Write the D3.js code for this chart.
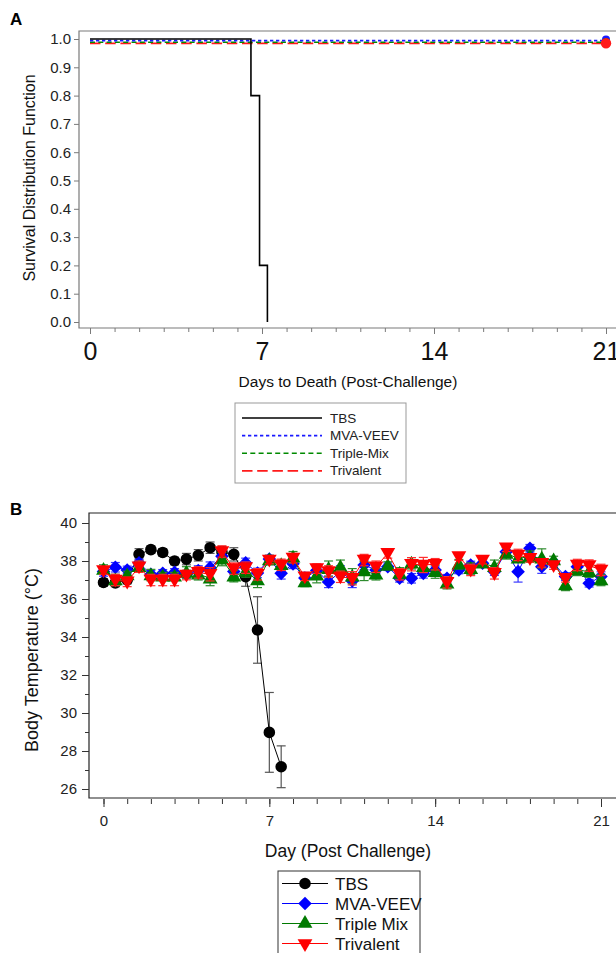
<!DOCTYPE html>
<html>
<head>
<meta charset="utf-8">
<script src="https://cdn.jsdelivr.net/npm/d3@7"></script>
<style>
  body { margin: 0; background: #fff; }
  svg { display: block; font-family: "Liberation Sans", Arial, sans-serif; }
</style>
</head>
<body>
<svg id="chart" width="616" height="953"></svg>
<script>
// ---- panel A data (Kaplan-Meier) ----
const survGroups = ["TBS", "MVA-VEEV", "Triple-Mix", "Trivalent"];
const tbsTimes = [0, 6.55, 6.9, 7.22];
const tbsSurv = [1.0, 0.8, 0.2, 0.0];
const vaccTimes = [0, 21];
const vaccSurv = [1.0, 1.0];
const survTicksY = [0.0, 0.1, 0.2, 0.3, 0.4, 0.5, 0.6, 0.7, 0.8, 0.9, 1.0];
const dayTicks = [0, 7, 14, 21];

// ---- panel B data (body temperature, mean +/- err) ----
const tempGroups = ["TBS", "MVA-VEEV", "Triple Mix", "Trivalent"];
const days = [0, 0.5, 1, 1.5, 2, 2.5, 3, 3.5, 4, 4.5, 5, 5.5, 6, 6.5, 7, 7.5, 8, 8.5, 9, 9.5, 10,
              10.5, 11, 11.5, 12, 12.5, 13, 13.5, 14, 14.5, 15, 15.5, 16, 16.5, 17, 17.5, 18, 18.5,
              19, 19.5, 20, 20.5, 21];
const tbsTemp = [36.87, 36.85, 37.0, 38.35, 38.6, 38.45, 38.0, 38.1, 38.3, 38.7, 38.47, 38.35, 37.17, 34.37, 28.98, 27.17];
const tbsErr = [0.2, 0.2, 0.2, 0.3, 0.2, 0.2, 0.2, 0.3, 0.3, 0.3, 0.3, 0.35, 0.5, 1.75, 2.1, 1.1];
const mvaTemp = [37.45, 37.67, 37.53, 37.9, 37.3, 37.35, 37.4, 37.3, 37.5, 37.65, 38.25, 37.45, 37.9, 37.37,
                 38.1, 37.35, 37.85, 37.1, 37.5, 36.9, 37.45, 36.95, 37.79, 37.53, 37.7, 37.09, 37.09, 37.35,
                 37.53, 37.09, 37.53, 37.79, 37.88, 37.44, 38.49, 37.44, 38.67, 37.7, 37.88, 37.18, 37.7, 36.83, 37.18];
const mvaErr = [0.25, 0.25, 0.2, 0.2, 0.2, 0.2, 0.2, 0.2, 0.25, 0.3, 0.3, 0.25, 0.25, 0.25, 0.2, 0.3, 0.25,
                0.3, 0.3, 0.3, 0.3, 0.35, 0.25, 0.2, 0.2, 0.2, 0.25, 0.25, 0.2, 0.2, 0.2, 0.2, 0.2, 0.2, 0.25,
                0.55, 0.2, 0.35, 0.2, 0.2, 0.3, 0.2, 0.25];
const tripleTemp = [37.55, 37.0, 37.26, 37.7, 37.26, 37.2, 37.2, 37.4, 37.3, 37.1, 38.1, 37.2, 37.45, 37.0,
                    38.05, 37.8, 38.2, 36.9, 37.25, 37.6, 37.7, 37.2, 37.47, 37.3, 37.76, 37.35, 37.88, 37.7,
                    37.44, 36.83, 37.83, 37.6, 37.88, 37.7, 38.4, 38.14, 38.23, 38.14, 38.05, 36.74, 37.53, 37.44, 37.0];
const tripleErr = [0.25, 0.3, 0.2, 0.25, 0.3, 0.2, 0.2, 0.3, 0.3, 0.4, 0.35, 0.3, 0.3, 0.4, 0.25, 0.2, 0.3,
                   0.25, 0.4, 0.4, 0.35, 0.4, 0.5, 0.3, 0.2, 0.3, 0.3, 0.3, 0.35, 0.3, 0.25, 0.3, 0.2, 0.35,
                   0.3, 0.2, 0.3, 0.5, 0.2, 0.3, 0.3, 0.3, 0.3];
const triTemp = [37.5, 37.0, 36.9, 37.7, 37.0, 37.0, 37.0, 37.26, 37.4, 37.3, 38.5, 37.6, 37.65, 37.3, 38.05,
                 37.8, 38.15, 37.17, 37.6, 37.45, 37.17, 37.09, 38.05, 37.7, 38.4, 37.3, 37.83, 37.79, 37.83,
                 36.88, 38.23, 37.53, 38.05, 37.35, 38.7, 38.32, 38.14, 37.88, 37.76, 37.09, 37.79, 37.76, 37.53];
const triErr = [0.2, 0.3, 0.25, 0.3, 0.3, 0.3, 0.3, 0.25, 0.3, 0.35, 0.3, 0.3, 0.3, 0.3, 0.2, 0.3, 0.25, 0.2,
                0.25, 0.3, 0.3, 0.35, 0.3, 0.3, 0.25, 0.3, 0.35, 0.4, 0.3, 0.3, 0.2, 0.3, 0.2, 0.3, 0.2, 0.3,
                0.2, 0.2, 0.2, 0.2, 0.3, 0.3, 0.3];
const tempTicksY = [26, 28, 30, 32, 34, 36, 38, 40];

const svg = d3.select("#chart");
const font = "Liberation Sans, Arial, sans-serif";

// ================= PANEL A =================
const A = {left: 79, top: 31, bottom: 328, right: 630};
const xA = d3.scaleLinear().domain([0, 21]).range([90, 606]);
const yA = d3.scaleLinear().domain([0, 1]).range([322, 39]);

svg.append("text").attr("x", 10).attr("y", 25).text("A")
  .attr("font-size", 17).attr("font-weight", "bold").attr("fill", "#000");

const gA = svg.append("g");
// frame
gA.append("path")
  .attr("d", `M${A.right},${A.top}H${A.left}V${A.bottom}H${A.right}`)
  .attr("fill", "none").attr("stroke", "#7a7a7a").attr("stroke-width", 1.2);

// y axis
const yAxisA = gA.append("g").attr("transform", `translate(${A.left},0)`)
  .call(d3.axisLeft(yA).tickValues(survTicksY).tickFormat(d3.format(".1f")).tickSize(5).tickPadding(3));
yAxisA.select(".domain").remove();
yAxisA.selectAll("line").attr("stroke", "#7a7a7a");
yAxisA.selectAll("text").attr("font-size", 15).attr("fill", "#222").attr("font-family", font);

// x axis minor + major
const xAxisAminor = gA.append("g").attr("transform", `translate(0,${A.bottom})`)
  .call(d3.axisBottom(xA).tickValues(d3.range(0, 22)).tickFormat("").tickSize(4));
xAxisAminor.select(".domain").remove();
xAxisAminor.selectAll("line").attr("stroke", "#7a7a7a");
const xAxisA = gA.append("g").attr("transform", `translate(0,${A.bottom})`)
  .call(d3.axisBottom(xA).tickValues(dayTicks).tickSize(6).tickPadding(8));
xAxisA.select(".domain").remove();
xAxisA.selectAll("line").attr("stroke", "#7a7a7a");
xAxisA.selectAll("text").attr("font-size", 25).attr("fill", "#111").attr("font-family", font);

gA.append("text").attr("x", 348).attr("y", 387).attr("text-anchor", "middle")
  .attr("font-size", 15.5).attr("fill", "#111").text("Days to Death (Post-Challenge)");
gA.append("text").attr("transform", "translate(35,178) rotate(-90)").attr("text-anchor", "middle")
  .attr("font-size", 16).attr("fill", "#111").text("Survival Distribution Function");

const survStyle = {
  "TBS": {color: "#000", dash: null, width: 1.6, dy: 0},
  "MVA-VEEV": {color: "#1a1aff", dash: "3.3,2.7", width: 1.6, dy: 1.6},
  "Triple-Mix": {color: "#008a00", dash: "5,3.3", width: 1.6, dy: 3.2},
  "Trivalent": {color: "#ff1a1a", dash: "10.5,4.7", width: 1.8, dy: 4.3}
};
const stepLine = d3.line().curve(d3.curveStepAfter).x(d => xA(d[0])).y(d => yA(d[1]));

["Trivalent", "Triple-Mix", "MVA-VEEV"].forEach(g => {
  const s = survStyle[g];
  gA.append("path").datum(d3.zip(vaccTimes, vaccSurv))
    .attr("d", stepLine).attr("transform", `translate(0,${s.dy})`)
    .attr("fill", "none").attr("stroke", s.color).attr("stroke-width", s.width)
    .attr("stroke-dasharray", s.dash);
});
gA.append("path").datum(d3.zip(tbsTimes, tbsSurv))
  .attr("d", stepLine).attr("fill", "none").attr("stroke", "#000").attr("stroke-width", 1.6);

// censor markers at end
[["MVA-VEEV", 4], ["Triple-Mix", 4.2], ["Trivalent", 5.2]].forEach(([g, r]) => {
  const s = survStyle[g];
  gA.append("circle").attr("cx", xA(vaccTimes[1])).attr("cy", yA(vaccSurv[1]) + s.dy - (g === "MVA-VEEV" ? 1 : 0))
    .attr("r", r).attr("fill", s.color);
});

// legend A
const legA = gA.append("g").attr("transform", "translate(235,403)");
legA.append("rect").attr("width", 171).attr("height", 80)
  .attr("fill", "#fff").attr("stroke", "#999").attr("stroke-width", 1);
survGroups.forEach((g, i) => {
  const s = survStyle[g];
  const yy = 15 + i * 17.6;
  legA.append("line").attr("x1", 7).attr("x2", 87).attr("y1", yy).attr("y2", yy)
    .attr("stroke", s.color).attr("stroke-width", s.width).attr("stroke-dasharray", s.dash);
  legA.append("text").attr("x", 95).attr("y", yy + 4.5).attr("font-size", 13.5).attr("fill", "#222").text(g);
});

// ================= PANEL B =================
const B = {left: 89, top: 513, bottom: 798, right: 630};
const xB = d3.scaleLinear().domain([0, 21]).range([103.5, 601]);
const yB = d3.scaleLinear().domain([26, 40]).range([789, 523]);

svg.append("text").attr("x", 10).attr("y", 515).text("B")
  .attr("font-size", 17).attr("font-weight", "bold").attr("fill", "#000");

const gB = svg.append("g");
gB.append("path")
  .attr("d", `M${B.right},${B.top}H${B.left}V${B.bottom}H${B.right}`)
  .attr("fill", "none").attr("stroke", "#222").attr("stroke-width", 1.2);

const yAxisBminor = gB.append("g").attr("transform", `translate(${B.left},0)`)
  .call(d3.axisLeft(yB).tickValues(d3.range(27, 41, 2)).tickFormat("").tickSize(4));
yAxisBminor.select(".domain").remove();
const yAxisB = gB.append("g").attr("transform", `translate(${B.left},0)`)
  .call(d3.axisLeft(yB).tickValues(tempTicksY).tickSize(7).tickPadding(5));
yAxisB.select(".domain").remove();
yAxisB.selectAll("text").attr("font-size", 15).attr("fill", "#222").attr("font-family", font);

const xAxisBminor = gB.append("g").attr("transform", `translate(0,${B.bottom + 1})`)
  .call(d3.axisBottom(xB).tickValues(d3.range(0, 22)).tickFormat("").tickSize(5));
xAxisBminor.select(".domain").remove();
const xAxisB = gB.append("g").attr("transform", `translate(0,${B.bottom + 1})`)
  .call(d3.axisBottom(xB).tickValues(dayTicks).tickSize(8).tickPadding(8));
xAxisB.select(".domain").remove();
xAxisB.selectAll("text").attr("font-size", 15).attr("fill", "#222").attr("font-family", font);
gB.selectAll(".tick line").attr("stroke", "#333");

gB.append("text").attr("x", 348).attr("y", 857).attr("text-anchor", "middle")
  .attr("font-size", 17.5).attr("fill", "#111").text("Day (Post Challenge)");
gB.append("text").attr("transform", "translate(38,660) rotate(-90)").attr("text-anchor", "middle")
  .attr("font-size", 18).attr("fill", "#111").text("Body Temperature (°C)");

// diamonds drawn as squares turned 45 degrees
const tempSeries = [
  {name: "TBS", vals: tbsTemp, err: tbsErr, color: "#000", bar: "#555", shape: d3.symbolCircle, size: 105, rot: 0, dy: 0},
  {name: "MVA-VEEV", vals: mvaTemp, err: mvaErr, color: "#0000ff", bar: "#3a3aff", shape: d3.symbolSquare, size: 92, rot: 45, dy: 0},
  {name: "Triple Mix", vals: tripleTemp, err: tripleErr, color: "#007a00", bar: "#2e8b2e", shape: d3.symbolTriangle, size: 95, rot: 0, dy: 1},
  {name: "Trivalent", vals: triTemp, err: triErr, color: "#ff0000", bar: "#ff3030", shape: d3.symbolTriangle, size: 95, rot: 180, dy: -1}
];

const tLine = d3.line().x(d => xB(d.day)).y(d => yB(d.v));
gB.append("clipPath").attr("id", "clipB").append("rect")
  .attr("x", B.left).attr("y", B.top).attr("width", 616 - B.left).attr("height", B.bottom - B.top);
const plotB = gB.append("g").attr("clip-path", "url(#clipB)");

tempSeries.forEach(s => {
  const pts = s.vals.map((v, i) => ({day: days[i], v: v, e: s.err[i]}));
  const g = plotB.append("g");
  // error bars
  const eb = g.selectAll("g.eb").data(pts).enter().append("g")
    .attr("stroke", s.bar).attr("stroke-width", 1.2);
  eb.append("line").attr("x1", d => xB(d.day)).attr("x2", d => xB(d.day))
    .attr("y1", d => yB(d.v - d.e)).attr("y2", d => yB(d.v + d.e));
  eb.append("line").attr("x1", d => xB(d.day) - 4.5).attr("x2", d => xB(d.day) + 4.5)
    .attr("y1", d => yB(d.v + d.e)).attr("y2", d => yB(d.v + d.e));
  eb.append("line").attr("x1", d => xB(d.day) - 4.5).attr("x2", d => xB(d.day) + 4.5)
    .attr("y1", d => yB(d.v - d.e)).attr("y2", d => yB(d.v - d.e));
  g.append("path").datum(pts).attr("d", tLine).attr("fill", "none")
    .attr("stroke", s.color).attr("stroke-width", 1);
  g.selectAll("path.m").data(pts).enter().append("path").attr("class", "m")
    .attr("d", d3.symbol(s.shape, s.size))
    .attr("transform", d => `translate(${xB(d.day)},${yB(d.v) + s.dy}) rotate(${s.rot})`)
    .attr("fill", s.color);
});

// legend B
const legB = gB.append("g").attr("transform", "translate(278,871)");
legB.append("rect").attr("width", 142).attr("height", 90)
  .attr("fill", "#fff").attr("stroke", "#333").attr("stroke-width", 1);
tempSeries.forEach((s, i) => {
  const yy = 12.5 + i * 20;
  legB.append("line").attr("x1", 4).attr("x2", 50).attr("y1", yy).attr("y2", yy)
    .attr("stroke", s.color).attr("stroke-width", 1);
  legB.append("path").attr("d", d3.symbol(s.shape, s.size))
    .attr("transform", `translate(27,${yy}) rotate(${s.rot})`).attr("fill", s.color);
  legB.append("text").attr("x", 57).attr("y", yy + 6).attr("font-size", 17).attr("fill", "#111").text(tempGroups[i]);
});
</script>
</body>
</html>
